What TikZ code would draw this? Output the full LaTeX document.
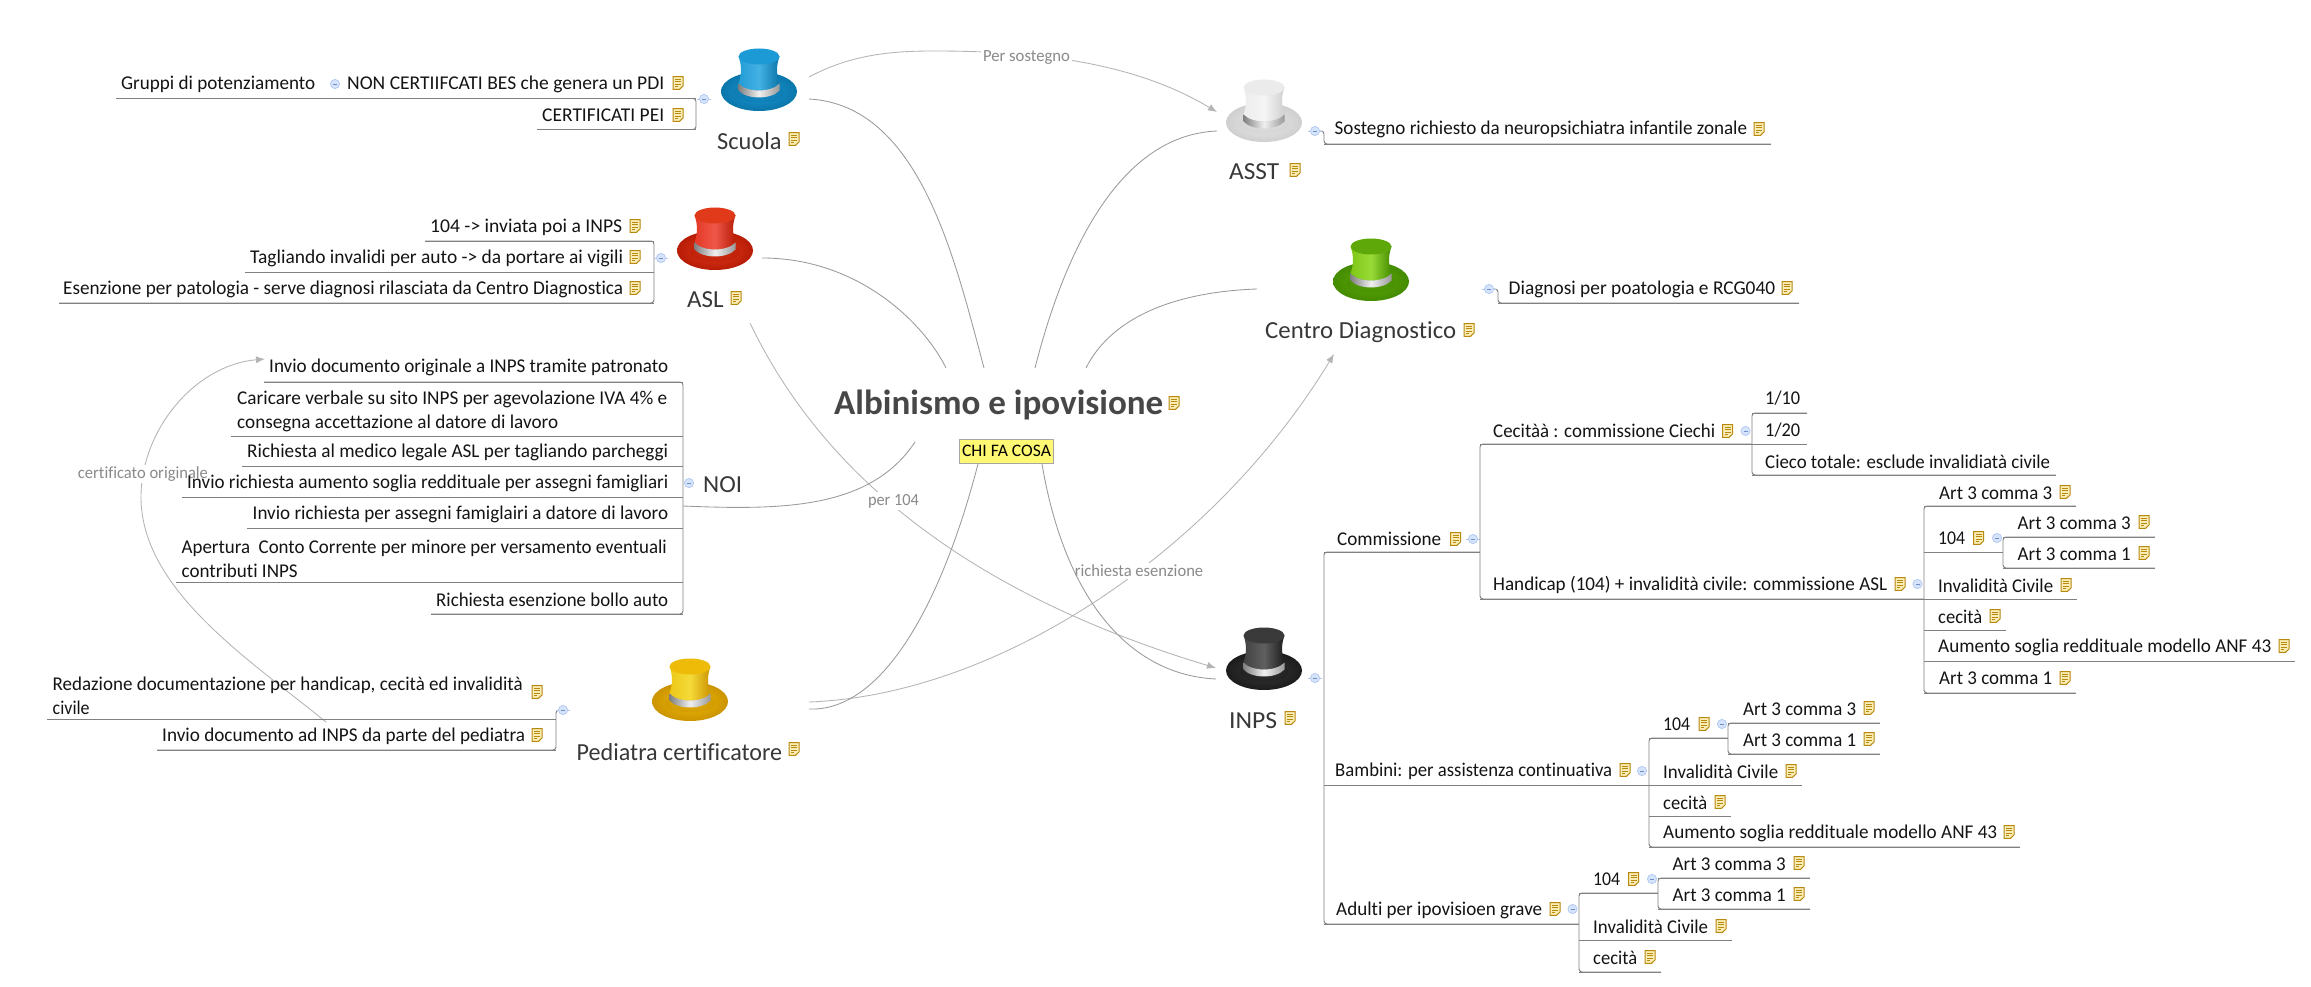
\documentclass[tikz,border=0pt]{standalone}
\usepackage{graphicx}
\usepackage{fontspec}
\setmainfont{Carlito}[Ligatures=CommonOff]
\usetikzlibrary{arrows.meta}
\definecolor{wirec}{HTML}{808080}
\definecolor{relc}{HTML}{B4B4B4}
\definecolor{mainc}{HTML}{9A9A9A}
\definecolor{labc}{HTML}{8A8A8A}
\definecolor{blueA}{HTML}{1C9AD6}\definecolor{blueB}{HTML}{2AA6E0}\definecolor{blueC}{HTML}{0A76AB}
\definecolor{redA}{HTML}{E03A1A}\definecolor{redB}{HTML}{EE4030}\definecolor{redC}{HTML}{B81C06}
\definecolor{whiA}{HTML}{EBEBEB}\definecolor{whiB}{HTML}{F4F4F4}\definecolor{whiC}{HTML}{CFCFCF}
\definecolor{greA}{HTML}{5EA80A}\definecolor{greB}{HTML}{8CD61C}\definecolor{greC}{HTML}{448C00}
\definecolor{blaA}{HTML}{3A3A3A}\definecolor{blaB}{HTML}{4A4A4A}\definecolor{blaC}{HTML}{1C1C1C}
\definecolor{yelA}{HTML}{EDBB08}\definecolor{yelB}{HTML}{F4D51E}\definecolor{yelC}{HTML}{CC9400}
\definecolor{noteF}{HTML}{F9EDB5}\definecolor{noteD}{HTML}{B8880F}
\definecolor{btnF}{HTML}{D5E3FB}\definecolor{btnD}{HTML}{B0C8F2}\definecolor{btnM}{HTML}{6F8FC8}
\newcommand{\Fit}[2]{\resizebox{#1pt}{\height}{#2}}
\tikzset{
  lab/.style={anchor=west,inner sep=0pt,text height=16pt,text depth=3pt,font=\fontsize{19.5}{24}\selectfont,text=black!92},
  labm/.style={anchor=west,inner sep=0pt,align=left,yshift=-2.5pt,font=\fontsize{19.5}{24}\selectfont,text=black!92},
  topic/.style={anchor=west,inner sep=0pt,text height=20pt,text depth=4pt,font=\fontsize{24.5}{28}\selectfont,text=black!78},
  rellab/.style={inner sep=2pt,fill=white,font=\fontsize{17}{20}\selectfont,text=labc},
  wire/.style={draw=wirec,line width=.95pt},
  bus/.style={draw=wirec,line width=.95pt,rounded corners=3pt},
  rel/.style={draw=relc,line width=.85pt},
  relarrow/.style={draw=relc,line width=.85pt,-{Latex[length=9pt,width=7pt,color=relc]}},
  mainline/.style={draw=mainc,line width=.85pt},
  noteicon/.pic={
    \fill[fill=noteF,draw=noteD,line width=1pt]
      (-5,-6.3) -- (5,-6.3) -- (5,3) -- (1.5,6.3) -- (-5,6.3) -- cycle;
    \draw[noteD,line width=.8pt] (-3,-3.6) -- (3,-3.6) (-3,-1.2) -- (3,-1.2) (-3,1.2) -- (3,1.2) (-3,3.6) -- (0,3.6);
  },
  btnicon/.pic={
    \fill[fill=btnF,draw=btnD,line width=.7pt] (0,0) circle (4.6);
    \draw[btnM,line width=.7pt] (-2,0) -- (2,0);
  },
  stubicon/.pic={
    \draw[btnD,line width=.8pt] (-7,0) -- (7,0);
    \fill[fill=btnF,draw=btnD,line width=.7pt] (0,0) circle (4.6);
    \draw[btnM,line width=.7pt] (-2,0) -- (2,0);
  },
}
\newcommand{\Nt}[2]{\pic at (#1,#2) {noteicon};}
\newcommand{\Bt}[2]{\pic at (#1,#2) {stubicon};}
% name, text x, text y, wire start x, wire y, wire end x, text width, text
\newcommand{\Row}[8]{%
  \node[lab] (#1) at (#2,#3) {\Fit{#7}{#8}};
  \coordinate (#1-s) at (#4,#5);
  \coordinate (#1-e) at (#6,#5);
  \draw[wire] (#1-s) -- (#1-e);}
\newcommand{\Bus}[2]{\draw[bus] (#1-e) -- (#1-s) -- (#2-s) -- (#2-e);}
\newcommand{\Hat}[5]{%
 \begin{scope}[shift={(#1,#2)}]
  \shade[inner color=#3,outer color=#5] (0,0) ellipse (38 and 19.5);
  \fill[#5,opacity=.4] (0,1.5) ellipse (25 and 9.5);
  \shade[left color=#4!80!#5,right color=#5,middle color=#4!88!white]
    (-20.5,-35) .. controls (-17,-26) and (-17.5,-16) .. (-20.5,-8)
    .. controls (-12,1.3) and (12,1.3) .. (20.5,-8)
    .. controls (17.5,-16) and (17,-26) .. (20.5,-35) -- cycle;
  \shade[left color=black!50,right color=black!40,middle color=white!94!black]
    (-20.5,-8) -- (-20.5,-1) .. controls (-12,8.3) and (12,8.3) .. (20.5,-1)
    -- (20.5,-8) .. controls (12,1.3) and (-12,1.3) .. cycle;
  \fill[#3] (0,-35) ellipse (20.5 and 8);
 \end{scope}}
\begin{document}
\begin{tikzpicture}[x=1pt,y=-1pt]
\useasboundingbox (0,0) rectangle (2311,987);
\fill[white] (0,0) rectangle (2311,987);

% ---------- named end points of the connectors
\coordinate (scuola-r1) at (809,77);
\coordinate (scuola-r2) at (809,99);
\coordinate (asl-r) at (762,258);
\coordinate (asl-b) at (750,323);
\coordinate (noi-r) at (683,506);
\coordinate (ped-r1) at (809,702);
\coordinate (ped-r2) at (809,709);
\coordinate (ped-l) at (326,722);
\coordinate (asst-l1) at (1217,112);
\coordinate (asst-l2) at (1217,131);
\coordinate (centro-l) at (1257,289);
\coordinate (centro-b) at (1334,354);
\coordinate (inps-l1) at (1216,668);
\coordinate (inps-l2) at (1216,679);
\coordinate (noi-t) at (265,359);
\coordinate (c1) at (946,368);
\coordinate (c2) at (984,368);
\coordinate (c3) at (1035,368);
\coordinate (c4) at (1086,368);
\coordinate (c5) at (915,442);
\coordinate (chi-l) at (978,464);
\coordinate (chi-r) at (1042,464);

% ---------- cross relations
\coordinate (psm) at (933,51);
\coordinate (cem) at (141,497);
\draw[rel] (scuola-r1) .. controls (850,55) and (890,51) .. (psm);
\draw[relarrow] (psm) .. controls (1030,51) and (1130,60) .. (asst-l1);
\node[rellab] (persost) at (1026.5,58) {\Fit{87}{Per sostegno}};
\draw[relarrow] (asl-b) .. controls (830,490) and (990,600) .. (inps-l1);
\node[rellab] (per104) at (893.5,501) {\Fit{51}{per 104}};
\draw[relarrow] (ped-r1) .. controls (1000,695) and (1215,550) .. (centro-b);
\node[rellab] (richesen) at (1139,571) {\Fit{128.5}{richiesta esenzione}};
\draw[rel] (ped-l) .. controls (250,660) and (141,590) .. (cem);
\draw[relarrow] (cem) .. controls (141,430) and (195,365) .. (noi-t);
\node[rellab] (certor) at (143,474) {\Fit{130}{certificato originale}};

% ---------- central topic
\node[inner sep=0pt,anchor=west,text=black!72,font=\bfseries\fontsize{35}{40}\selectfont] (root) at (834,405) {\Fit{329}{Albinismo e ipovisione}};
\Nt{1174}{403}
\node[draw=black!35,fill=yellow!55,minimum width=94pt,minimum height=24pt,inner sep=0pt,text=black,font=\fontsize{17.5}{20}\selectfont] (chi) at (1006.5,451) {\Fit{89}{CHI FA COSA}};

% ---------- main branches
\draw[mainline] (scuola-r2) .. controls (920,105) and (955,260) .. (c2);
\draw[mainline] (asl-r) .. controls (860,258) and (925,325) .. (c1);
\draw[mainline] (asst-l2) .. controls (1120,135) and (1065,250) .. (c3);
\draw[mainline] (centro-l) .. controls (1170,292) and (1110,320) .. (c4);
\draw[mainline] (noi-r) .. controls (780,510) and (870,510) .. (c5);
\draw[mainline] (ped-r2) .. controls (880,712) and (940,610) .. (chi-l);
\draw[mainline] (chi-r) .. controls (1065,600) and (1130,675) .. (inps-l2);

% ---------- hats
\Hat{759}{91.5}{blueA}{blueB}{blueC}
\Hat{715}{250.5}{redA}{redB}{redC}
\Hat{1264}{122.5}{whiA}{whiB}{whiC}
\Hat{1371}{281.5}{greA}{greB}{greC}
\Hat{1264}{670.5}{blaA}{blaB}{blaC}
\Hat{690}{701.5}{yelA}{yelB}{yelC}

% ---------- topic labels
\node[topic] (scuola) at (717,142) {\Fit{64.5}{Scuola}}; \Nt{794}{139}
\node[topic] (asl) at (687,300) {\Fit{36.5}{ASL}}; \Nt{736}{298}
\node[topic] (asst) at (1229,172) {\Fit{50}{ASST}}; \Nt{1295}{170}
\node[topic] (centro) at (1265,330) {\Fit{191}{Centro Diagnostico}}; \Nt{1469}{330}
\node[topic] (inps) at (1229,720) {\Fit{48}{INPS}}; \Nt{1290}{718}
\node[topic] (ped) at (576.5,752) {\Fit{205.5}{Pediatra certificatore}}; \Nt{794}{749}
\node[topic] (noi) at (703,484) {\Fit{39}{NOI}};

% ---------- Scuola
\node[lab] (gruppi) at (121,83) {\Fit{194}{Gruppi di potenziamento}};
\pic at (335,84) {btnicon};
\Row{nonbes}{347}{83}{696}{98.5}{116}{317}{NON CERTIIFCATI BES che genera un PDI} \Nt{678}{83}
\Row{pei}{542}{115}{696}{129.5}{537}{122}{CERTIFICATI PEI} \Nt{678}{115}
\Bus{nonbes}{pei} \Bt{704}{99}

% ---------- ASL
\Row{asla}{430}{226}{654}{241}{425}{192}{104 -> inviata poi a INPS} \Nt{635}{226}
\Row{aslb}{250}{257}{654}{272}{245}{373}{Tagliando invalidi per auto -> da portare ai vigili} \Nt{635}{257}
\Row{aslc}{63}{288}{654}{303}{59}{560}{Esenzione per patologia - serve diagnosi rilasciata da Centro Diagnostica} \Nt{635}{288}
\Bus{asla}{aslc} \Bt{661}{258}

% ---------- NOI
\Row{noia}{269}{366}{683}{382}{264}{399}{Invio documento originale a INPS tramite patronato}
\node[labm] (noib) at (237,408.5) {\Fit{430}{Caricare verbale su sito INPS per agevolazione IVA 4\% e}\\\Fit{321}{consegna accettazione al datore di lavoro}};
\coordinate (noib-s) at (683,436); \coordinate (noib-e) at (231,436); \draw[wire] (noib-s) -- (noib-e);
\Row{noic}{247}{451}{683}{466}{242}{421}{Richiesta al medico legale ASL per tagliando parcheggi}
\Row{noid}{187}{482}{683}{497}{182}{481}{Invio richiesta aumento soglia reddituale per assegni famigliari}
\Row{noie}{252.5}{513}{683}{528}{247}{415.5}{Invio richiesta per assegni famiglairi a datore di lavoro}
\node[labm] (noif) at (181.5,556.5) {\Fit{485}{Apertura\ \ Conto Corrente per minore per versamento eventuali}\\\Fit{116}{contributi INPS}};
\coordinate (noif-s) at (683,582); \coordinate (noif-e) at (175.5,582); \draw[wire] (noif-s) -- (noif-e);
\Row{noig}{436}{600}{683}{614}{431}{232}{Richiesta esenzione bollo auto}
\Bus{noia}{noig} \pic at (689,483) {btnicon};

% ---------- Pediatra
\node[labm] (peda) at (52.5,693.5) {\Fit{470}{Redazione documentazione per handicap, cecità ed invalidità}\\\Fit{37}{civile}};
\Nt{537}{692}
\coordinate (peda-s) at (556,719); \coordinate (peda-e) at (47,719); \draw[wire] (peda-s) -- (peda-e);
\Row{pedb}{162}{735}{556}{750}{157}{363}{Invio documento ad INPS da parte del pediatra} \Nt{537}{735}
\coordinate (pedbtn) at (563,710);
\coordinate (pedturn) at (556,710);
\draw[bus] (pedbtn) -- (pedturn) -- (pedb-s) -- (pedb-e);
\Bt{563}{710}

% ---------- ASST
\Row{asstb}{1334.5}{128}{1324}{144}{1771}{412.5}{Sostegno richiesto da neuropsichiatra infantile zonale} \Nt{1759}{129}
\coordinate (asstbtn) at (1315,131);
\coordinate (asstturn) at (1324,131);
\draw[bus] (asstbtn) -- (asstturn) -- (asstb-s) -- (asstb-e);
\Bt{1315}{131}

% ---------- Centro Diagnostico
\Row{centrob}{1508.5}{288}{1498}{303}{1799}{266.5}{Diagnosi per poatologia e RCG040} \Nt{1787}{288}
\coordinate (centrobtn) at (1489,289);
\coordinate (centroturn) at (1498,289);
\draw[bus] (centrobtn) -- (centroturn) -- (centrob-s) -- (centrob-e);
\Bt{1489}{289}

% ---------- INPS
\Row{comm}{1337}{539}{1324}{552}{1480}{104}{Commissione} \Nt{1455.5}{539} \Bt{1473}{539}
\Row{bamb}{1335}{770}{1324}{785}{1802}{277}{Bambini: per assistenza continuativa} \Nt{1625}{770} \pic at (1642,771) {btnicon};
\Row{adul}{1336}{909}{1324}{924}{1579}{206}{Adulti per ipovisioen grave} \Nt{1555}{909} \pic at (1572.5,909) {btnicon};
\Bus{comm}{adul} \Bt{1315}{678}

\Row{cec}{1493}{431}{1480}{444}{1752}{222}{Cecitàà : commissione Ciechi} \Nt{1727.5}{431} \pic at (1745.5,431) {btnicon};
\Row{hand}{1493}{584}{1480}{599}{1924}{394}{Handicap (104) + invalidità civile: commissione ASL} \Nt{1900}{584} \pic at (1917.5,584) {btnicon};
\Bus{cec}{hand}

\Row{cecA}{1765}{398}{1752}{413}{1807}{35}{1/10}
\Row{cecB}{1765}{430}{1752}{444}{1807}{35}{1/20}
\Row{cecC}{1765}{462}{1752}{475}{2056}{285}{Cieco totale: esclude invalidiatà civile}
\Bus{cecA}{cecC}

\Row{hA}{1939}{493}{1924}{506}{2076}{113}{Art 3 comma 3} \Nt{2065}{492}
\Row{hB}{1938}{538}{1924}{552}{2003}{27}{104} \Nt{1978.5}{538} \pic at (1997,538) {btnicon};
\Row{hC}{1938}{586}{1924}{599}{2077}{115}{Invalidità Civile} \Nt{2066}{585}
\Row{hD}{1938}{617}{1924}{630}{2006}{44}{cecità} \Nt{1995}{616}
\Row{hE}{1938}{646}{1924}{661}{2295}{333}{Aumento soglia reddituale modello ANF 43} \Nt{2284}{646}
\Row{hF}{1939}{678}{1924}{693}{2076}{113}{Art 3 comma 1} \Nt{2065}{678}
\Bus{hA}{hF}
\Row{hBa}{2017.5}{523}{2003}{537}{2155}{113}{Art 3 comma 3} \Nt{2144}{522}
\Row{hBb}{2017.5}{554}{2003}{568}{2155}{113}{Art 3 comma 1} \Nt{2144}{553}
\Bus{hBa}{hBb}

\Row{bA}{1663}{724}{1649}{738}{1728}{27}{104} \Nt{1704}{724} \pic at (1722,724) {btnicon};
\Row{bB}{1663}{772}{1649}{785}{1802}{115}{Invalidità Civile} \Nt{1791}{771}
\Row{bC}{1663}{803}{1649}{816}{1731}{44}{cecità} \Nt{1720}{802}
\Row{bD}{1663}{832}{1649}{847}{2020}{334}{Aumento soglia reddituale modello ANF 43} \Nt{2009}{832}
\Bus{bA}{bD}
\Row{bAa}{1743}{709}{1728}{723}{1880}{113}{Art 3 comma 3} \Nt{1869}{708}
\Row{bAb}{1743}{740}{1728}{754}{1880}{113}{Art 3 comma 1} \Nt{1869}{739}
\Bus{bAa}{bAb}

\Row{aA}{1593}{879}{1579}{893}{1658}{27}{104} \Nt{1633.5}{879} \pic at (1652,879) {btnicon};
\Row{aB}{1593}{927}{1579}{940}{1732}{115}{Invalidità Civile} \Nt{1721}{926}
\Row{aC}{1593}{958}{1579}{972}{1661}{44}{cecità} \Nt{1650}{957}
\Bus{aA}{aC}
\Row{aAa}{1672.5}{864}{1658}{878}{1810}{113}{Art 3 comma 3} \Nt{1799}{863}
\Row{aAb}{1672.5}{895}{1658}{909}{1810}{113}{Art 3 comma 1} \Nt{1799}{894}
\Bus{aAa}{aAb}
\end{tikzpicture}
\end{document}
